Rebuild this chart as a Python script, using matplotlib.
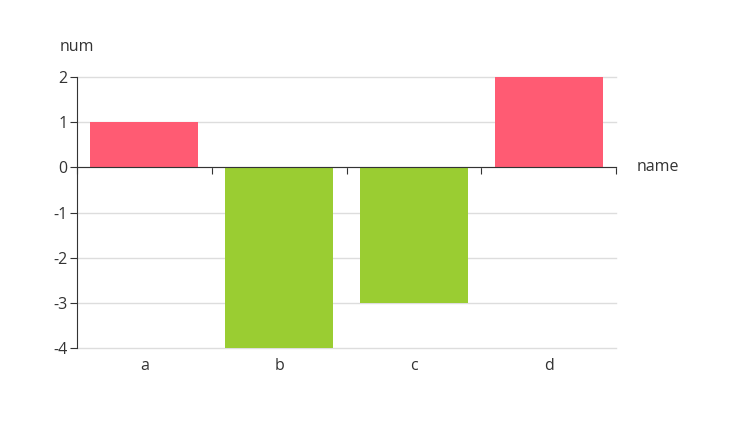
import matplotlib
matplotlib.use("Agg")
import matplotlib.pyplot as plt
import matplotlib.transforms as mtransforms

# -------- DATA --------
categories = ["a", "b", "c", "d"]
values = [1, -4, -3, 2]
y_ticks = [-4, -3, -2, -1, 0, 1, 2]

pos_color = "#ff5b73"
neg_color = "#9acd32"
text_color = "#333333"
fs = 11.5

plt.rcParams["font.family"] = ["Open Sans", "DejaVu Sans"]
plt.rcParams["axes.unicode_minus"] = False

fig = plt.figure(figsize=(7.36, 4.24), dpi=100)
ax = fig.add_axes([77 / 736, 1 - 348 / 424, (616 - 77) / 736, (348 - 77) / 424])

x = list(range(len(categories)))
colors = [pos_color if v >= 0 else neg_color for v in values]
ax.bar(x, values, width=0.8, color=colors, zorder=3)

ax.set_xlim(-0.5, len(categories) - 0.5)
ax.set_ylim(min(y_ticks), max(y_ticks))

# grid
ax.set_yticks(y_ticks)
ax.yaxis.grid(True, color="#dddddd", linewidth=1, zorder=0)
for gl in ax.get_ygridlines():
    gl.set_clip_on(False)
ax.set_axisbelow(True)

# spines
for s in ["top", "right"]:
    ax.spines[s].set_visible(False)
ax.spines["left"].set_color(text_color)
ax.spines["bottom"].set_position(("data", 0))
ax.spines["bottom"].set_color(text_color)
ax.spines["bottom"].set_zorder(4)

ax.tick_params(axis="y", length=5, color=text_color, labelcolor=text_color,
               labelsize=fs, pad=2)
# boundary ticks on the zero axis
ax.set_xticks([i - 0.5 for i in range(len(categories) + 1)])
ax.set_xticklabels([])
ax.tick_params(axis="x", length=5, color=text_color, direction="out")

# category labels below the plot
offset = mtransforms.offset_copy(ax.transData, fig=fig, y=-13, units="points")
for i, c in enumerate(categories):
    ax.text(i, min(y_ticks), c, transform=offset, ha="center", va="center",
            color=text_color, fontsize=fs)

# axis names
ax.text(0, 1.11, "num", transform=ax.transAxes, ha="center", va="center",
        color=text_color, fontsize=fs)
name_tr = mtransforms.offset_copy(ax.get_yaxis_transform(which="grid"), fig=fig,
                                  x=15, units="points")
ax.text(1.0, 0, "name", transform=name_tr, ha="left", va="center",
        color=text_color, fontsize=fs)

fig.savefig("out.png", dpi=100)
